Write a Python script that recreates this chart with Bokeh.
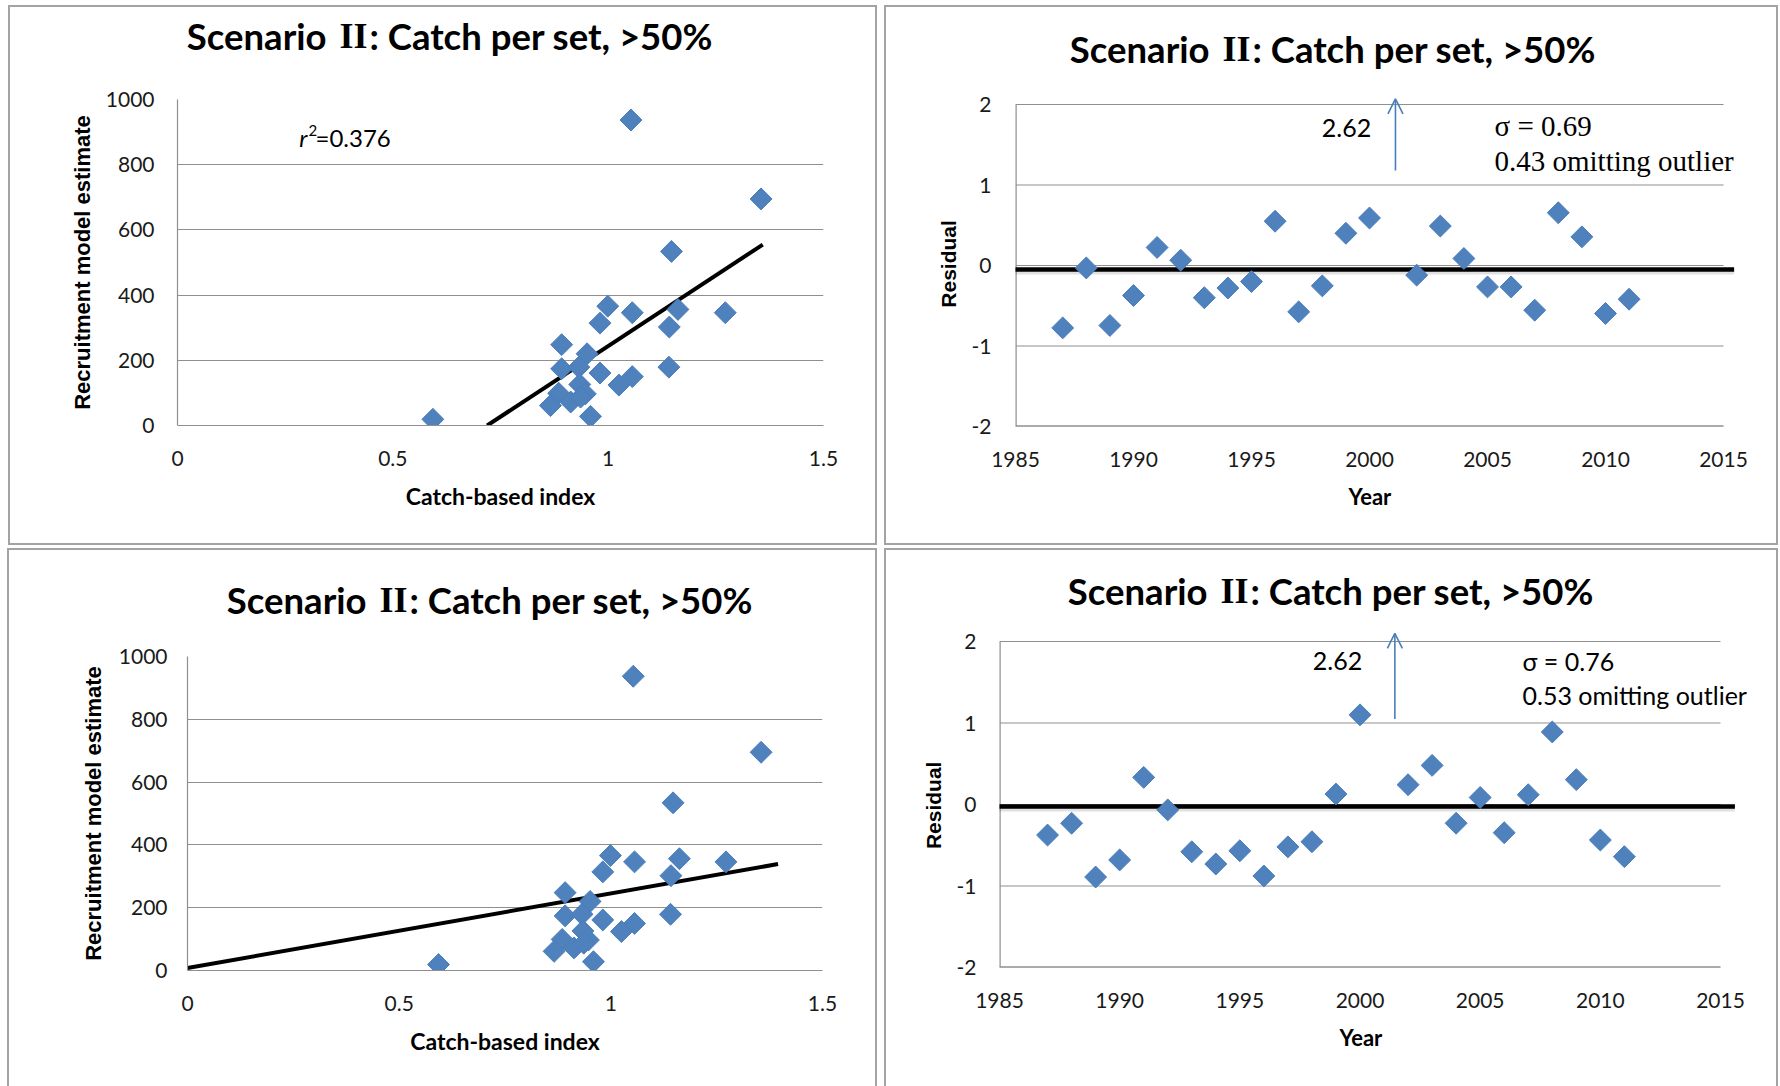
import math

from bokeh.embed import file_html
from bokeh.layouts import column, row
from bokeh.models import Arrow, FixedTicker, Label, OpenHead, Range1d, Spacer
from bokeh.plotting import figure
from bokeh.resources import INLINE

# ---------------------------------------------------------------- data
# Catch-based index vs recruitment model estimate (one point per year)
catch_index = [0.593, 1.053, 1.355, 1.147, 0.999, 1.056, 1.162, 1.272, 0.981,
               1.142, 0.892, 0.951, 0.892, 0.932, 1.141, 0.981, 1.056, 1.025,
               0.934, 0.885, 0.947, 0.913, 0.936, 0.866, 0.959]
recruit_estimate = [19, 937, 695, 534, 366, 346, 356, 346, 314,
                    302, 248, 220, 174, 179, 179, 161, 150, 124,
                    126, 99, 97, 72, 87, 61, 28]

# fitted lines (end points) for the two scatter panels
fit_top_x = [0.719, 1.359]
fit_top_y = [0, 555]
fit_bottom_x = [0.0, 1.395]
fit_bottom_y = [8, 339]
r_squared = 0.376

# residuals by year (2001 is off the scale, shown by the arrow)
resid_years = [1987, 1988, 1989, 1990, 1991, 1992, 1993, 1994, 1995, 1996,
               1997, 1998, 1999, 2000, 2002, 2003, 2004, 2005, 2006, 2007,
               2008, 2009, 2010, 2011]
resid_top = [-0.775, -0.03, -0.745, -0.373, 0.224, 0.066, -0.40, -0.28, -0.20,
             0.55, -0.576, -0.253, 0.40, 0.59, -0.12, 0.49, 0.087, -0.266,
             -0.266, -0.555, 0.655, 0.356, -0.596, -0.419]
resid_bottom = [-0.375, -0.23, -0.89, -0.68, 0.333, -0.066, -0.58, -0.73,
                -0.568, -0.877, -0.52, -0.457, 0.128, 1.10, 0.243, 0.48,
                -0.23, 0.086, -0.346, 0.12, 0.89, 0.305, -0.436, -0.64]
outlier_value = 2.62
outlier_arrow_top = dict(x=2001.1, y_from=1.18, y_to=2.07)
outlier_arrow_bottom = dict(x=2001.45, y_from=1.05, y_to=2.10)
zero_line_top = dict(y=-0.05, x_from=1984.6, x_to=2015.45)
zero_line_bottom = dict(y=-0.025, x_from=1984.6, x_to=2015.6)
sigma_top, sigma_top_omit = 0.69, 0.43
sigma_bottom, sigma_bottom_omit = 0.76, 0.53

# ticks
scatter_xticks = [0, 0.5, 1, 1.5]
scatter_xtick_labels = ["0", "0.5", "1", "1.5"]
scatter_yticks = [0, 200, 400, 600, 800, 1000]
scatter_ytick_labels = ["0", "200", "400", "600", "800", "1000"]
resid_xticks = [1985, 1990, 1995, 2000, 2005, 2010, 2015]
resid_xtick_labels = ["1985", "1990", "1995", "2000", "2005", "2010", "2015"]
resid_yticks = [-2, -1, 0, 1, 2]
resid_ytick_labels = ["-2", "-1", "0", "1", "2"]

TITLE = ("Scenario", "II", ": Catch per set, >50%")

# ---------------------------------------------------------------- style
BLUE = "#4f81bd"
EDGE_BLUE = "#4a7ebb"
GRID = "#8f8f8f"
SANS = "Lato"
SERIF = "Liberation Serif"
BOLD_SANS = "Liberation Sans"
NBSP = "\u00a0"
BOX_FULL = {"outline": "2px solid #a3a3a3", "outline-offset": "-2px"}
# lower panels run off the bottom of the page: no bottom edge
BOX_OPEN = {"box-shadow": "inset 2px 2px 0 #a3a3a3, inset -2px 0 0 #a3a3a3"}


def _lin(mapping, px):
    pa, va, pb, vb = mapping
    return va + (px - pa) * (vb - va) / (pb - pa)


class Panel:
    """A boxed chart: a heading strip above a plot, laid out in page pixels.

    box   -- (x0, y0, x1, y1) of the whole panel
    frame -- (left, top, right, bottom) of the plotting area
    xmap / ymap -- (pixel_a, value_a, pixel_b, value_b) calibration
    """

    def __init__(self, box, head_h, frame, xmap, ymap, box_style):
        bx0, by0, bx1, by1 = box
        fl, ft, fr, fb = frame
        self.xmap, self.ymap = xmap, ymap
        common = dict(output_backend="svg", toolbar_location=None,
                      min_border_left=fl - bx0, min_border_right=bx1 - fr)

        self.head = figure(width=bx1 - bx0, height=head_h,
                           x_range=Range1d(fl, fr),
                           y_range=Range1d(by0 + head_h, by0),
                           x_axis_type=None, y_axis_type=None,
                           min_border_top=0, min_border_bottom=0, **common)
        h = self.head
        h.outline_line_color = None
        h.grid.visible = False
        h.background_fill_alpha = 0.0
        h.border_fill_alpha = 0.0

        self.fig = figure(width=bx1 - bx0, height=by1 - by0 - head_h,
                          x_range=Range1d(_lin(xmap, fl), _lin(xmap, fr)),
                          y_range=Range1d(_lin(ymap, fb), _lin(ymap, ft)),
                          min_border_top=ft - (by0 + head_h),
                          min_border_bottom=by1 - fb, **common)
        p = self.fig
        p.outline_line_color = None
        p.background_fill_color = "white"
        p.border_fill_alpha = 0.0
        p.xgrid.grid_line_color = None
        p.ygrid.grid_line_color = GRID
        p.ygrid.grid_line_width = 1.2
        for ax in (p.xaxis[0], p.yaxis[0]):
            ax.major_tick_line_color = None
            ax.minor_tick_line_color = None
            ax.major_tick_in = 0
            ax.major_tick_out = 0
            ax.axis_line_color = GRID
            ax.axis_line_width = 1.2
            ax.major_label_text_font = SANS
            ax.major_label_text_font_size = "21px"
            ax.major_label_text_color = "#1a1a1a"
            ax.axis_label_text_color = "black"
            ax.axis_label_text_font_style = "bold"

        self.layout = column(self.head, self.fig, styles=box_style)

    def label(self, px, py, text, font=SANS, size=20, style="normal",
              align="left"):
        self.fig.add_layout(Label(
            x=_lin(self.xmap, px), y=_lin(self.ymap, py), text=text,
            text_font=font, text_font_size=f"{size}px",
            text_font_style=style, text_align=align, text_baseline="middle",
            text_color="black"))

    def title(self, left, py):
        # roman numeral set in a serif face, the rest in a sans face
        first, numeral, rest = TITLE
        pieces = [(left + 139, first, SANS, 36.5, "right"),
                  (left + 166, numeral, SERIF, 36, "center"),
                  (left + 182, rest, SANS, 36.5, "left")]
        for px, text, font, size, align in pieces:
            self.head.add_layout(Label(
                x=px, y=py, text=text, text_font=font,
                text_font_size=f"{size}px", text_font_style="bold",
                text_align=align, text_baseline="middle", text_color="black"))


def set_ticks(axis, values, labels):
    axis.ticker = FixedTicker(ticks=values)
    axis.major_label_overrides = dict(zip(values, labels))


def scatter_panel(panel, fit_x, fit_y, title_left, title_y, stand):
    p = panel.fig
    set_ticks(p.xaxis[0], scatter_xticks, scatter_xtick_labels)
    set_ticks(p.yaxis[0], scatter_yticks, scatter_ytick_labels)
    p.xaxis.axis_label = "Catch-based index"
    p.xaxis.axis_label_text_font = SANS
    p.xaxis.axis_label_text_font_size = "23px"
    p.yaxis.axis_label = "Recruitment model estimate"
    p.yaxis.axis_label_text_font = BOLD_SANS
    p.yaxis.axis_label_text_font_size = "22px"
    (p.xaxis.major_label_standoff, p.yaxis.major_label_standoff,
     p.xaxis.axis_label_standoff, p.yaxis.axis_label_standoff) = stand
    p.line(fit_x, fit_y, line_color="black", line_width=4)
    p.scatter(catch_index, recruit_estimate, marker="square",
              angle=math.pi / 4, size=15.5, fill_color=BLUE,
              line_color=EDGE_BLUE, line_width=1)
    panel.title(title_left, title_y)


def residual_panel(panel, values, zero, arrow, title_left, title_y, stand,
                   x_pad, y_pad):
    p = panel.fig
    set_ticks(p.xaxis[0], resid_xticks, resid_xtick_labels)
    set_ticks(p.yaxis[0], resid_yticks, resid_ytick_labels)
    # the plotting area runs past 2015 to make room for the notes, so the
    # axis titles carry trailing no-break spaces to stay centred on the axes
    p.xaxis.axis_label = "Year" + NBSP * x_pad
    p.xaxis.axis_label_text_font = SANS
    p.xaxis.axis_label_text_font_size = "22px"
    p.yaxis.axis_label = "Residual" + NBSP * y_pad
    p.yaxis.axis_label_text_font = BOLD_SANS
    p.yaxis.axis_label_text_font_size = "21px"
    (p.xaxis.major_label_standoff, p.yaxis.major_label_standoff,
     p.xaxis.axis_label_standoff, p.yaxis.axis_label_standoff) = stand

    # gridlines and axis lines span the axes only
    p.ygrid.grid_line_color = None
    p.xaxis.axis_line_color = None
    p.yaxis.axis_line_color = None
    x0, x1 = resid_xticks[0], resid_xticks[-1]
    y0, y1 = resid_yticks[0], resid_yticks[-1]
    n = len(resid_yticks)
    p.segment(x0=[x0] * n, y0=resid_yticks, x1=[x1] * n, y1=resid_yticks,
              line_color=GRID, line_width=1.2)
    p.segment(x0=[x0, x0], y0=[y0, y0], x1=[x0, x1], y1=[y1, y0],
              line_color=GRID, line_width=2.4)

    # zero line with a soft drop shadow
    px_per_unit = abs(panel.ymap[0] - panel.ymap[2]) / abs(panel.ymap[1] - panel.ymap[3])
    xs = [zero["x_from"], zero["x_to"]]
    p.line(xs, [zero["y"] - 2.5 / px_per_unit] * 2, line_color="black",
           line_alpha=0.12, line_width=5)
    p.line(xs, [zero["y"]] * 2, line_color="black", line_width=4.5)

    p.scatter(resid_years, values, marker="square", angle=math.pi / 4,
              size=15.5, fill_color=BLUE, line_color=EDGE_BLUE, line_width=1)

    # off-scale outlier
    p.add_layout(Arrow(
        end=OpenHead(size=15, line_color=EDGE_BLUE, line_width=1.6),
        x_start=arrow["x"], y_start=arrow["y_from"],
        x_end=arrow["x"], y_end=arrow["y_to"],
        line_color=EDGE_BLUE, line_width=1.6))
    panel.title(title_left, title_y)


# ---------------------------------------------------------------- panels
p1 = Panel(box=(8, 5, 877, 545), head_h=60, frame=(177, 99, 823, 425),
           xmap=(177, 0, 823, 1.5), ymap=(425, 0, 99, 1000), box_style=BOX_FULL)
p2 = Panel(box=(884, 5, 1778, 545), head_h=75, frame=(1015, 95, 1750, 426),
           xmap=(1015, 1985, 1723, 2015), ymap=(426, -2, 104, 2), box_style=BOX_FULL)
p3 = Panel(box=(7, 548, 877, 1086), head_h=80, frame=(187, 656, 822, 970),
           xmap=(187, 0, 822, 1.5), ymap=(970, 0, 656, 1000), box_style=BOX_OPEN)
p4 = Panel(box=(884, 548, 1778, 1086), head_h=70, frame=(999, 631, 1748, 967),
           xmap=(999, 1985, 1720, 2015), ymap=(967, -2, 641, 2), box_style=BOX_OPEN)

scatter_panel(p1, fit_top_x, fit_top_y, 187, 35, stand=(25, 23, 13, 8))
scatter_panel(p3, fit_bottom_x, fit_bottom_y, 227, 599, stand=(25, 20, 13, 10))
residual_panel(p2, resid_top, zero_line_top, outlier_arrow_top, 1070, 48,
               stand=(25, 24, 13, 9), x_pad=5, y_pad=1)
residual_panel(p4, resid_bottom, zero_line_bottom, outlier_arrow_bottom, 1068,
               590, stand=(25, 23, 13, 9), x_pad=5, y_pad=2)

# r-squared note: italic r, raised 2, then the value
p1.label(307, 137, "r", font=SANS, size=24, style="italic", align="right")
p1.label(308, 130, "2", font=SANS, size=15)
p1.label(315, 137, f"={r_squared:.3f}", font=SANS, size=24)

# outlier value and spread notes
p2.label(1346, 127, f"{outlier_value:.2f}", font=SANS, size=25, align="center")
p2.label(1494, 125, f"\u03c3 = {sigma_top:.2f}", font=SERIF, size=29)
p2.label(1494, 160, f"{sigma_top_omit:.2f} omitting outlier", font=SERIF, size=29)
p4.label(1337, 660, f"{outlier_value:.2f}", font=SANS, size=25, align="center")
p4.label(1522, 660, f"\u03c3 = {sigma_bottom:.2f}", font=SANS, size=25)
p4.label(1522, 694, f"{sigma_bottom_omit:.2f} omitting outlier", font=SANS, size=25)

page = column(
    Spacer(height=5),
    row(Spacer(width=8), p1.layout, Spacer(width=7), p2.layout),
    Spacer(height=3),
    row(Spacer(width=7), p3.layout, Spacer(width=7), p4.layout),
)

open("out.html", "w").write(file_html(page, INLINE, title="Scenario II residuals"))
